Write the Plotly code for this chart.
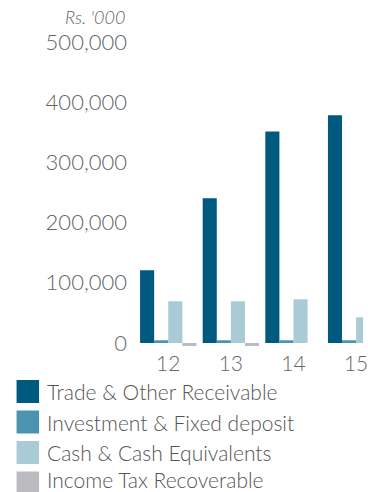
import plotly.graph_objects as go

# Financial years (last two digits)
years = ["12", "13", "14", "15"]

# Current assets, Rs. '000
trade_receivable = [120800, 240400, 351200, 378200]
investment_fd = [4500, 4500, 4500, 4500]
cash_equivalents = [69300, 69300, 72600, 42700]
income_tax_recoverable = [-5000, -5000, 0, 0]

series_names = [
    "Trade & Other Receivable",
    "Investment & Fixed deposit",
    "Cash & Cash Equivalents",
    "Income Tax Recoverable",
]
series_values = [trade_receivable, investment_fd, cash_equivalents, income_tax_recoverable]
series_colors = ["#00597E", "#4B94AF", "#AACAD6", "#BCBCC0"]

y_ticks = [0, 100000, 200000, 300000, 400000, 500000]
y_tick_labels = ["0", "100,000", "200,000", "300,000", "400,000", "500,000"]

FONT = "Lato"
TEXT = "#666666"

W, H = 368, 492
M_L, M_R, M_T, M_B = 134, 0, 36, 143
PLOT_W = W - M_L - M_R
PLOT_H = H - M_T - M_B


def px_to_paper(x, y):
    return (x - M_L) / PLOT_W, 1 - (y - M_T) / PLOT_H


fig = go.Figure()
for name, vals, col in zip(series_names, series_values, series_colors):
    fig.add_trace(go.Bar(x=years, y=vals, name=name, marker=dict(color=col, line=dict(width=0)),
                         showlegend=False))

# Legend drawn as square swatches with labels beneath the plot
shapes, annotations = [], []
for i, (name, col) in enumerate(zip(series_names, series_colors)):
    cy = 391.5 + i * 30.5
    x0, y0 = px_to_paper(14, cy - 11.5)
    x1, y1 = px_to_paper(37, cy + 11.5)
    shapes.append(dict(type="rect", xref="paper", yref="paper", x0=x0, x1=x1, y0=y1, y1=y0,
                       fillcolor=col, line=dict(width=0)))
    tx, ty = px_to_paper(43, min(cy, 479))
    annotations.append(dict(text=name, xref="paper", yref="paper", x=tx, y=ty, xanchor="left",
                            yanchor="middle", showarrow=False,
                            font=dict(family=FONT, size=21, weight=300, color="#555555")))

# Unit label above the value axis
ux, uy = px_to_paper(127, 17)
annotations.append(dict(text="<i>Rs. '000</i>", xref="paper", yref="paper", x=ux, y=uy,
                        xanchor="right", yanchor="middle", showarrow=False,
                        font=dict(family=FONT, size=18, weight=300, color=TEXT)))

fig.update_layout(
    width=W, height=H,
    margin=dict(l=M_L, r=M_R, t=M_T, b=M_B, pad=0),
    paper_bgcolor="white", plot_bgcolor="white",
    barmode="group", bargap=0.1, bargroupgap=0,
    shapes=shapes, annotations=annotations,
    font=dict(family=FONT, color=TEXT),
    xaxis=dict(type="category", range=[-0.547, 3.11], showgrid=False, showline=False,
               zeroline=False, ticks="", tickfont=dict(family=FONT, size=21, weight=300, color=TEXT)),
    yaxis=dict(range=[-10000, 510000], tickvals=y_ticks, ticktext=y_tick_labels,
               showgrid=False, showline=False, zeroline=False, ticks="", ticklabelstandoff=6,
               tickfont=dict(family=FONT, size=22, weight=300, color=TEXT)),
)

fig.write_html("out.html")
